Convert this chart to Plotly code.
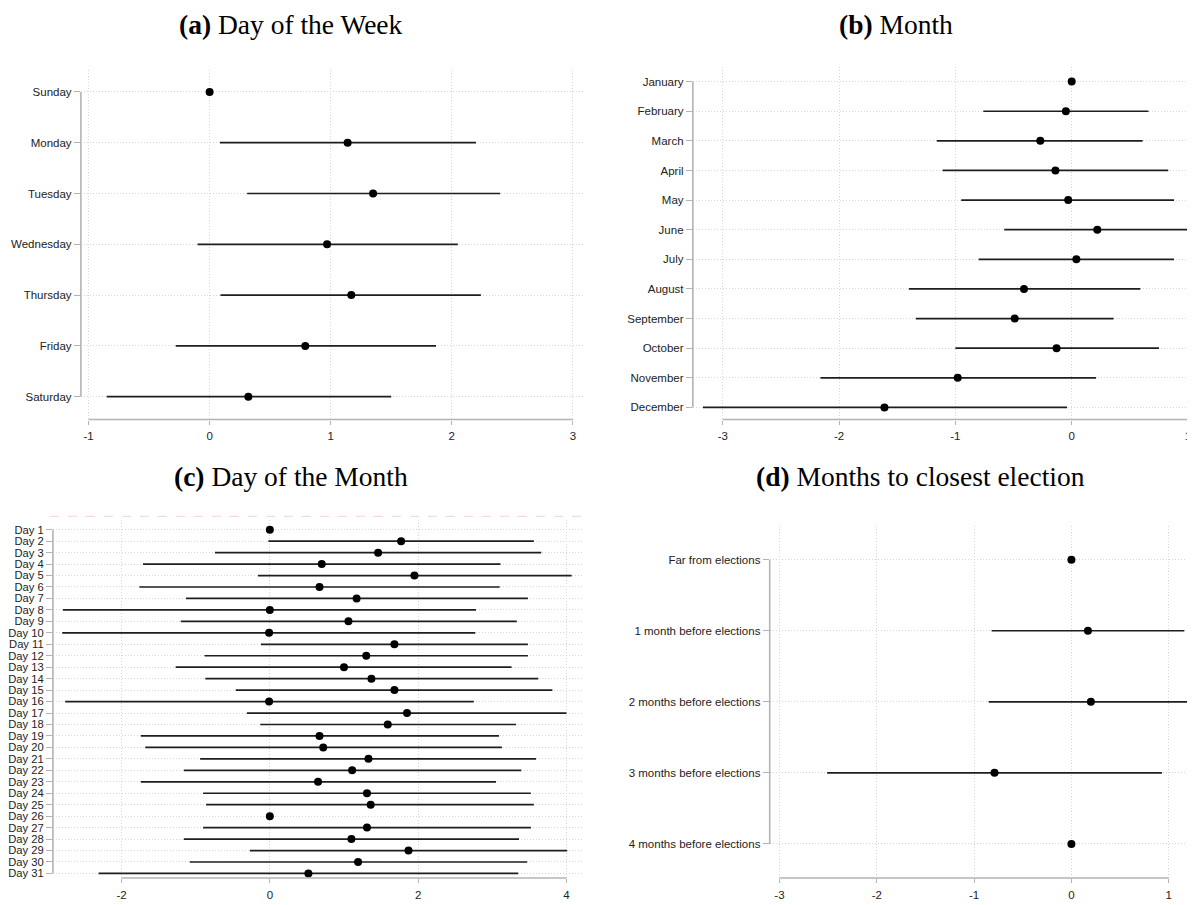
import plotly.graph_objects as go

# ---------------- data ----------------
week_days = ["Sunday", "Monday", "Tuesday", "Wednesday", "Thursday", "Friday", "Saturday"]
week_est = [0.0, 1.14, 1.35, 0.97, 1.17, 0.79, 0.32]
week_lo = [None, 0.085, 0.31, -0.10, 0.09, -0.28, -0.85]
week_hi = [None, 2.20, 2.40, 2.05, 2.24, 1.87, 1.50]

months = ["January", "February", "March", "April", "May", "June", "July",
          "August", "September", "October", "November", "December"]
month_est = [0.0, -0.05, -0.27, -0.14, -0.03, 0.22, 0.04, -0.41, -0.49, -0.13, -0.98, -1.61]
month_lo = [None, -0.76, -1.16, -1.11, -0.95, -0.58, -0.80, -1.40, -1.34, -1.00, -2.16, -3.17]
month_hi = [None, 0.66, 0.61, 0.83, 0.88, 1.03, 0.88, 0.59, 0.36, 0.75, 0.21, -0.04]

days = ["Day %d" % i for i in range(1, 32)]
day_est = [0.0, 1.77, 1.46, 0.70, 1.95, 0.67, 1.17, 0.0, 1.06, -0.01,
           1.68, 1.30, 1.00, 1.37, 1.68, -0.01, 1.85, 1.59, 0.67, 0.72,
           1.33, 1.11, 0.65, 1.31, 1.36, 0.0, 1.31, 1.10, 1.87, 1.19, 0.52]
day_lo = [None, -0.02, -0.74, -1.71, -0.16, -1.76, -1.13, -2.79, -1.20, -2.80,
          -0.12, -0.88, -1.27, -0.87, -0.46, -2.76, -0.31, -0.13, -1.74, -1.68,
          -0.94, -1.16, -1.74, -0.90, -0.86, None, -0.90, -1.16, -0.27, -1.08, -2.31]
day_hi = [None, 3.56, 3.66, 3.11, 4.07, 3.10, 3.48, 2.78, 3.33, 2.77,
          3.48, 3.48, 3.26, 3.62, 3.81, 2.75, 4.00, 3.32, 3.09, 3.13,
          3.59, 3.39, 3.05, 3.52, 3.56, None, 3.52, 3.36, 4.01, 3.47, 3.35]

elections = ["Far from elections", "1 month before elections", "2 months before elections",
             "3 months before elections", "4 months before elections"]
elec_est = [0.0, 0.17, 0.20, -0.79, 0.0]
elec_lo = [None, -0.82, -0.85, -2.51, None]
elec_hi = [None, 1.16, 1.25, 0.93, None]

titles = ["<b>(a)</b> Day of the Week", "<b>(b)</b> Month",
          "<b>(c)</b> Day of the Month", "<b>(d)</b> Months to closest election"]

xticks_a = [-1, 0, 1, 2, 3]
xticks_b = [-3, -2, -1, 0, 1]
xticks_c = [-2, 0, 2, 4]
xticks_d = [-3, -2, -1, 0, 1]

# ---------------- layout geometry ----------------
OFF = 8                     # page body margin of the html page
W, H = 1195 - OFF, 905 - OFF

def dom_x(a, b):
    return [max(0.0, (a - OFF) / W), min(1.0, (b - OFF) / W)]

def dom_y(top, bottom):
    return [1 - (bottom - OFF) / H, 1 - (top - OFF) / H]

panels = [
    dict(cats=week_days, est=week_est, lo=week_lo, hi=week_hi, ticks=xticks_a,
         xdom=dom_x(79, 583), ydom=dom_y(70, 420), xr=[-1.063, 3.092], yr=[6.45, -0.433],
         fs=11.5, title_xy=(289, 8), title_anchor="top"),
    dict(cats=months, est=month_est, lo=month_lo, hi=month_hi, ticks=xticks_b,
         xdom=dom_x(692, 1195), ydom=dom_y(67, 420), xr=[-3.257, 1.06], yr=[11.41, -0.496],
         fs=11.5, title_xy=(895, 8), title_anchor="top"),
    dict(cats=days, est=day_est, lo=day_lo, hi=day_hi, ticks=xticks_c,
         xdom=dom_x(51, 581), ydom=dom_y(521, 879), xr=[-2.925, 4.21], yr=[30.4, -0.81],
         fs=11.2, title_xy=(289, 477), title_anchor="middle"),
    dict(cats=elections, est=elec_est, lo=elec_lo, hi=elec_hi, ticks=xticks_d,
         xdom=dom_x(769, 1195), ydom=dom_y(527, 879), xr=[-3.10, 1.27], yr=[4.48, -0.468],
         fs=11.5, title_xy=(920, 477), title_anchor="middle"),
]

fig = go.Figure()
shapes = []
annotations = []
axis_col = "#b3b3b3"
grid_col = "#d6d6d6"
txt_col = "#222222"
grid_dash = "1px,2px"

def px(v, rng, dom):
    return dom[0] + (v - rng[0]) / (rng[1] - rng[0]) * (dom[1] - dom[0])

for i, p in enumerate(panels):
    n = i + 1
    xa = "x" if n == 1 else "x%d" % n
    ya = "y" if n == 1 else "y%d" % n
    plus = [(h - e) if h is not None else 0 for e, h in zip(p["est"], p["hi"])]
    minus = [(e - l) if l is not None else 0 for e, l in zip(p["est"], p["lo"])]
    fig.add_trace(go.Scatter(
        x=p["est"], y=p["cats"], mode="markers", xaxis=xa, yaxis=ya,
        marker=dict(size=8, color="black"),
        error_x=dict(type="data", symmetric=False, array=plus, arrayminus=minus,
                     width=0, thickness=1.7, color="#1e1e1e"),
        showlegend=False, hoverinfo="x+y"))

    xkey = "xaxis" if n == 1 else "xaxis%d" % n
    ykey = "yaxis" if n == 1 else "yaxis%d" % n
    fig.update_layout(**{
        xkey: dict(domain=p["xdom"], anchor=ya, range=p["xr"], tickmode="array",
                   tickvals=p["ticks"], ticktext=[str(t) for t in p["ticks"]],
                   showgrid=True, gridcolor=grid_col, griddash=grid_dash, gridwidth=1,
                   zeroline=False, showline=False, ticks="outside", ticklen=4,
                   tickcolor=axis_col, tickwidth=1.3, ticklabelstandoff=2,
                   tickfont=dict(family="Liberation Sans, Arial", size=11.5, color=txt_col)),
        ykey: dict(domain=p["ydom"], anchor=xa, type="category",
                   categoryorder="array", categoryarray=p["cats"], range=p["yr"],
                   tickmode="array", tickvals=p["cats"],
                   showgrid=True, gridcolor=grid_col, griddash=grid_dash, gridwidth=1,
                   zeroline=False, showline=False, ticks="outside", ticklen=6,
                   tickcolor=axis_col, tickwidth=1.3,
                   tickfont=dict(family="Liberation Sans, Arial", size=p["fs"], color=txt_col)),
    })

    # axis lines spanning only the tick range (Stata style)
    x0 = px(min(p["ticks"]), p["xr"], p["xdom"])
    x1 = px(max(p["ticks"]), p["xr"], p["xdom"])
    yb = p["ydom"][0]
    shapes.append(dict(type="line", xref="paper", yref="paper", x0=x0, x1=min(x1, 0.9995),
                       y0=yb, y1=yb, line=dict(color=axis_col, width=1.6)))
    y0 = px(0, p["yr"], p["ydom"])
    y1 = px(len(p["cats"]) - 1, p["yr"], p["ydom"])
    xl = p["xdom"][0]
    shapes.append(dict(type="line", xref="paper", yref="paper", x0=xl, x1=xl,
                       y0=y0, y1=y1, line=dict(color=axis_col, width=1.6)))

    tx, ty = p["title_xy"]
    annotations.append(dict(text=titles[i], x=(tx - OFF) / W, y=1 - (ty - OFF) / H,
                            xref="paper", yref="paper", borderpad=0,
                            showarrow=False, xanchor="center", yanchor=p["title_anchor"],
                            font=dict(family="Liberation Serif, serif", size=27.5, color="black")))

# faint pink dashed border at the top of panel (c)
shapes.append(dict(type="line", xref="paper", yref="paper", x0=(48 - OFF) / W, x1=(583 - OFF) / W,
                   y0=1 - (517 - OFF) / H, y1=1 - (517 - OFF) / H,
                   line=dict(color="#f7d9de", width=1.3, dash="dash")))

fig.update_layout(width=W, height=H, margin=dict(l=0, r=0, t=0, b=0),
                  paper_bgcolor="white", plot_bgcolor="white",
                  shapes=shapes, annotations=annotations, showlegend=False)

fig.write_html("out.html")
